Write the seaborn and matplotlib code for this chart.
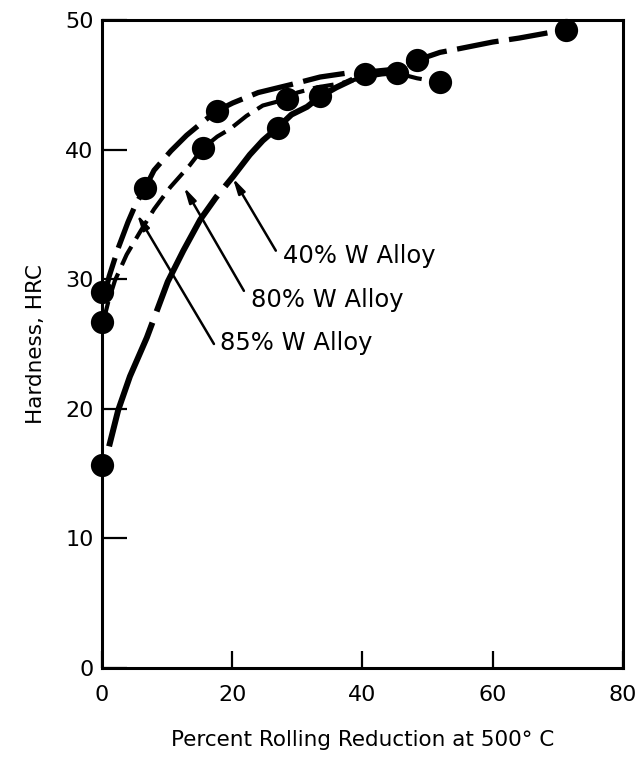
import seaborn as sns
import matplotlib.pyplot as plt
import pandas as pd

# Measured data points (percent reduction, HRC)
x_85 = [0, 6.6, 17.7, 48.4, 71.3]
y_85 = [29.0, 37.0, 43.0, 46.9, 49.2]
x_80 = [0, 15.5, 28.4, 40.4, 45.3, 51.9]
y_80 = [26.7, 40.1, 43.9, 45.8, 45.9, 45.2]
x_40 = [0, 27.0, 33.5]
y_40 = [15.7, 41.7, 44.1]

# Hand-fitted curves
cx_85 = [0.3, 1.1, 2.5, 4.0, 5.2, 6.6, 8.0, 10.6, 13.0, 15.4, 17.7, 20.1, 24.0,
         28.9, 33.5, 37.6, 41.0, 45.0, 48.4, 51.9, 55.0, 60.0, 64.0, 68.4]
cy_85 = [28.5, 30.2, 32.4, 34.4, 35.8, 37.0, 38.4, 39.9, 41.1, 42.1, 43.0, 43.6, 44.4,
         45.0, 45.6, 45.9, 46.0, 46.2, 46.9, 47.5, 47.8, 48.3, 48.6, 49.0]
cx_80 = [0.2, 1.0, 2.0, 3.8, 5.8, 8.0, 10.5, 13.5, 15.5, 17.7, 19.7, 22.2, 24.7,
         28.4, 30.0, 33.0, 36.6, 40.4, 43.0, 45.3, 48.4, 51.9]
cy_80 = [26.7, 28.3, 29.9, 31.9, 33.6, 35.4, 37.1, 38.8, 40.1, 41.0, 41.6, 42.6, 43.4,
         43.9, 44.4, 44.8, 45.1, 45.6, 45.8, 45.9, 45.5, 45.2]
cx_40 = [1.1, 2.5, 4.3, 6.9, 10.1, 12.5, 15.1, 17.5, 20.1, 22.7, 24.7, 27.0, 29.1,
         31.5, 33.5, 36.0, 38.5]
cy_40 = [17.1, 19.9, 22.5, 25.5, 29.8, 32.2, 34.6, 36.3, 37.9, 39.6, 40.7, 41.7, 42.7,
         43.3, 44.1, 44.8, 45.4]

# Label text, arrow head and tail (data units)
labels = ["40% W Alloy", "80% W Alloy", "85% W Alloy"]
label_xy = [(27.8, 31.8), (22.9, 28.4), (18.1, 25.1)]
arrow_head = [(20.1, 37.8), (12.6, 37.1), (5.4, 35.0)]
arrow_tail = [(26.7, 32.2), (21.8, 29.1), (17.2, 25.0)]

x_ticks = [0, 20, 40, 60, 80]
y_ticks = [0, 10, 20, 30, 40, 50]

sns.set_style("white", {"text.color": "black", "axes.labelcolor": "black",
                        "xtick.color": "black", "ytick.color": "black",
                        "xtick.bottom": True, "ytick.left": True})
plt.rcParams["font.family"] = ["DejaVu Sans"]

fig = plt.figure(figsize=(6.37, 7.57), dpi=100)
ax = fig.add_axes([0.160, 0.1176, 0.818, 0.856])

curves = [
    (cx_85, cy_85, 3.8, (0, (8, 2))),
    (cx_80, cy_80, 3.0, (0, (5, 2.2))),
    (cx_40, cy_40, 4.3, (0, (22, 2))),
]
for cx, cy, lw, ls in curves:
    sns.lineplot(x=cx, y=cy, sort=False, estimator=None, color="black",
                 linewidth=lw, linestyle=ls, ax=ax)

pts = pd.DataFrame({
    "x": x_85 + x_80 + x_40,
    "y": y_85 + y_80 + y_40,
})
sns.scatterplot(data=pts, x="x", y="y", color="black", s=280,
                edgecolor="black", linewidth=0, zorder=5, clip_on=False, ax=ax)

for lab, txy, head, tail in zip(labels, label_xy, arrow_head, arrow_tail):
    ax.annotate("", xy=head, xytext=tail,
                arrowprops=dict(arrowstyle="-|>,head_length=0.9,head_width=0.22",
                                color="black", lw=1.8, shrinkA=0, shrinkB=0))
    ax.text(txy[0], txy[1], lab, fontsize=17.5, ha="left", va="center", color="black")

ax.set_xlim(0, 80)
ax.set_ylim(0, 50)
ax.set_xticks(x_ticks)
ax.set_yticks(y_ticks)
ax.tick_params(axis="both", direction="in", width=1.6, labelsize=16,
               color="black", labelcolor="black", bottom=True, left=True)
ax.tick_params(axis="x", length=12, pad=12)
ax.tick_params(axis="y", length=18, pad=6)

for spine in ax.spines.values():
    spine.set_visible(True)
    spine.set_color("black")
    spine.set_linewidth(2.2)

ax.set_xlabel("Percent Rolling Reduction at 500\u00b0 C", fontsize=15.5,
              labelpad=18, color="black")
ax.set_ylabel("Hardness, HRC", fontsize=15.5, labelpad=14, color="black")

fig.savefig("out.png", dpi=100)
